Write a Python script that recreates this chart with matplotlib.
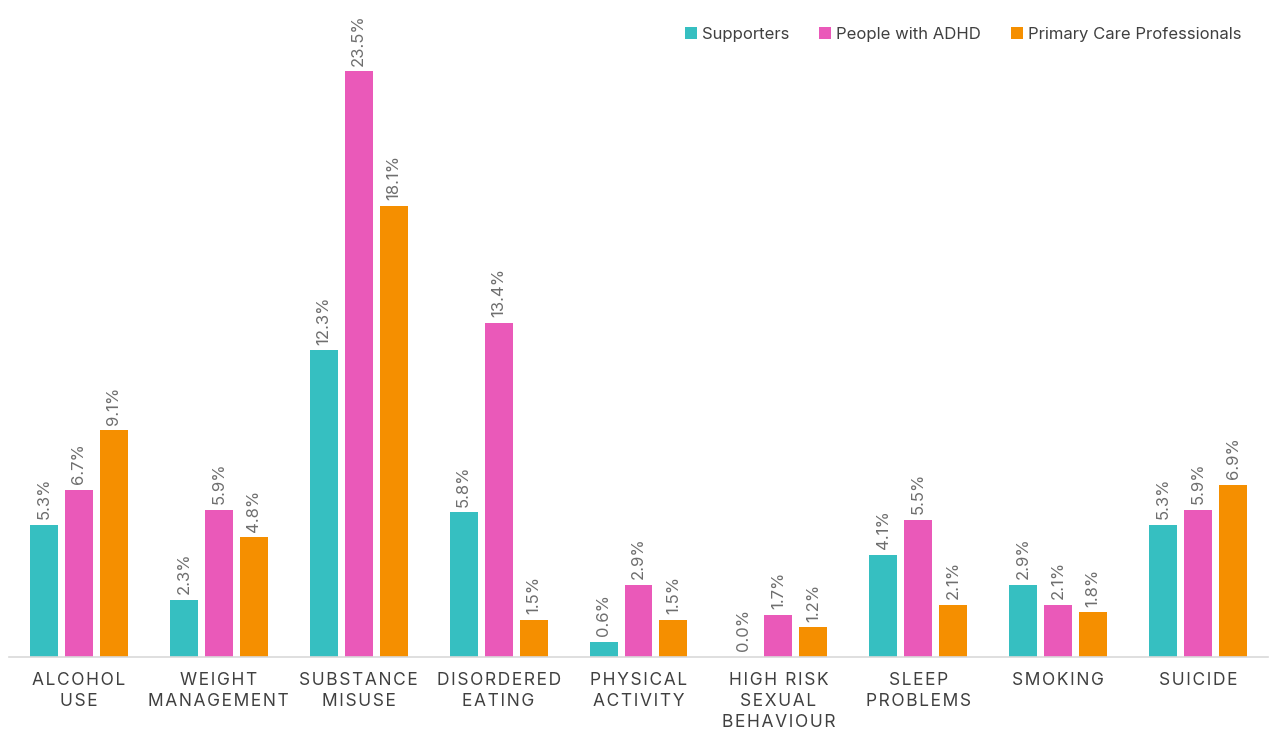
import numpy as np
import matplotlib.pyplot as plt

plt.rcParams['font.family'] = ['Inter', 'DejaVu Sans']

# data
categories = ['ALCOHOL\nUSE', 'WEIGHT\nMANAGEMENT', 'SUBSTANCE\nMISUSE', 'DISORDERED\nEATING',
              'PHYSICAL\nACTIVITY', 'HIGH RISK\nSEXUAL\nBEHAVIOUR', 'SLEEP\nPROBLEMS', 'SMOKING', 'SUICIDE']
series_names = ['Supporters', 'People with ADHD', 'Primary Care Professionals']
supporters = [5.3, 2.3, 12.3, 5.8, 0.6, 0.0, 4.1, 2.9, 5.3]
people_adhd = [6.7, 5.9, 23.5, 13.4, 2.9, 1.7, 5.5, 2.1, 5.9]
primary_care = [9.1, 4.8, 18.1, 1.5, 1.5, 1.2, 2.1, 1.8, 6.9]
colors = ['#36BFC1', '#EA59B9', '#F58F00']


def spaced(s):
    # fake letter spacing
    return '\n'.join('\u200a'.join(line) for line in s.split('\n'))


fig = plt.figure(figsize=(12.69, 7.32), dpi=100)
ax = fig.add_axes([9 / 1269, 1 - 657 / 732, 1259 / 1269, 648 / 732])

x = np.arange(len(categories))
offsets = [-0.25, 0, 0.25]
for vals, name, col, off in zip([supporters, people_adhd, primary_care], series_names, colors, offsets):
    bars = ax.bar(x + off, vals, width=0.2, color=col, label=name)
    for b, v in zip(bars, vals):
        ax.annotate(f'{v:.1f}%', (b.get_x() + b.get_width() / 2, b.get_height()),
                    xytext=(0, 4), textcoords='offset points', rotation=90,
                    ha='center', va='bottom', fontsize=12, color='#6E6E6E',
                    annotation_clip=False)

ax.set_xlim(-0.5, len(categories) - 0.5)
ax.set_ylim(0, 26)
ax.set_xticks(x)
ax.set_xticklabels([spaced(c) for c in categories], fontsize=12.5, color='#404040',
                   linespacing=1.3)
ax.tick_params(axis='x', length=0, pad=11)
ax.set_yticks([])
for s in ['top', 'right', 'left']:
    ax.spines[s].set_visible(False)
ax.spines['bottom'].set_color('#D9D9D9')
ax.spines['bottom'].set_linewidth(1.2)

ax.legend(loc='upper right', bbox_to_anchor=(0.9905, 0.996), ncol=3, frameon=False,
          fontsize=12, handlelength=0.7, handleheight=0.7, handletextpad=0.3,
          columnspacing=1.8, labelcolor='#404040')

fig.savefig('out.png', dpi=100)
